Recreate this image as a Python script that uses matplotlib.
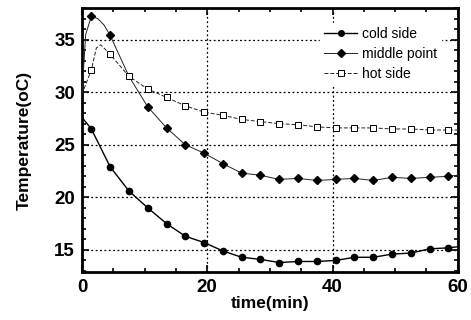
import matplotlib
matplotlib.use("Agg")
import matplotlib.pyplot as plt
from matplotlib.ticker import MultipleLocator

plt.rcParams["font.family"] = ["Liberation Sans", "DejaVu Sans"]

# cold side: line points, markers every 3 min from 1.5
cold_t = [0, 1.5, 4.5, 7.5, 10.5, 13.5, 16.5, 19.5, 22.5, 25.5, 28.5, 31.5,
          34.5, 37.5, 40.5, 43.5, 46.5, 49.5, 52.5, 55.5, 58.5, 60]
cold_y = [27.6, 26.5, 22.9, 20.6, 19.0, 17.5, 16.3, 15.7, 14.9, 14.3, 14.1, 13.8,
          13.9, 13.9, 14.0, 14.3, 14.3, 14.6, 14.7, 15.1, 15.2, 15.3]
cold_marks = list(range(1, 21))

# middle point
mid_t = [0, 0.6, 1.5, 2.5, 3.5, 4.5, 7.5, 10.5, 13.5, 16.5, 19.5, 22.5, 25.5,
         28.5, 31.5, 34.5, 37.5, 40.5, 43.5, 46.5, 49.5, 52.5, 55.5, 58.5, 60]
mid_y = [29.8, 35.5, 37.2, 37.0, 36.4, 35.4, 31.5, 28.6, 26.6, 25.0, 24.2, 23.2, 22.3,
         22.1, 21.7, 21.8, 21.6, 21.7, 21.8, 21.6, 21.9, 21.8, 21.9, 22.0, 22.1]
mid_marks = [2, 5] + list(range(7, 24))

# hot side
hot_t = [0, 1.5, 2.3, 3.0, 4.5, 7.5, 10.5, 13.5, 16.5, 19.5, 22.5, 25.5, 28.5,
         31.5, 34.5, 37.5, 40.5, 43.5, 46.5, 49.5, 52.5, 55.5, 58.5, 60]
hot_y = [29.8, 32.1, 34.2, 34.5, 33.6, 31.5, 30.3, 29.5, 28.7, 28.1, 27.8, 27.4, 27.2,
         27.0, 26.9, 26.7, 26.6, 26.6, 26.6, 26.5, 26.5, 26.4, 26.4, 26.4]
hot_marks = [1] + list(range(4, 23))

fig = plt.figure(figsize=(4.71, 3.20), dpi=100)
ax = fig.add_axes([0.174, 0.15, 0.798, 0.825])

ax.plot(cold_t, cold_y, color="black", lw=1.0, marker="o", ms=4.5,
        markevery=cold_marks, label="cold side", zorder=3)
ax.plot(mid_t, mid_y, color="#222222", lw=0.7, marker="D", ms=4.5,
        mfc="black", mec="black", markevery=mid_marks, label="middle point", zorder=3)
ax.plot(hot_t, hot_y, color="#222222", lw=0.7, ls=(0, (4, 2)), marker="s", ms=4.5,
        mfc="white", mec="black", mew=0.7, markevery=hot_marks, label="hot side", zorder=3)

ax.set_xlim(0, 60)
ax.set_ylim(12.9, 38)
ax.xaxis.set_major_locator(MultipleLocator(20))
ax.xaxis.set_minor_locator(MultipleLocator(5))
ax.yaxis.set_major_locator(MultipleLocator(5))
ax.yaxis.set_minor_locator(MultipleLocator(1))
ax.tick_params(which="both", direction="in", top=True, right=True, width=1.2)
ax.tick_params(which="major", length=5, labelsize=13.5, pad=5)
ax.tick_params(which="minor", length=3)
for lbl in ax.get_xticklabels() + ax.get_yticklabels():
    lbl.set_fontweight("bold")
for s in ax.spines.values():
    s.set_linewidth(2)

ax.grid(True, which="major", color="black", ls=(0, (1.5, 2)), lw=0.9)

ax.set_xlabel("time(min)", fontsize=12.5, fontweight="bold", labelpad=0)
ax.set_ylabel("Temperature(oC)", fontsize=12.5, fontweight="bold", labelpad=16)

leg = ax.legend(loc="upper right", bbox_to_anchor=(0.975, 0.97), fontsize=10,
                frameon=True, fancybox=False, edgecolor="white",
                framealpha=1, handlelength=2.4, handletextpad=0.35,
                labelspacing=0.42, borderpad=0.3, markerscale=0.9)

fig.savefig("out.png", dpi=100)
